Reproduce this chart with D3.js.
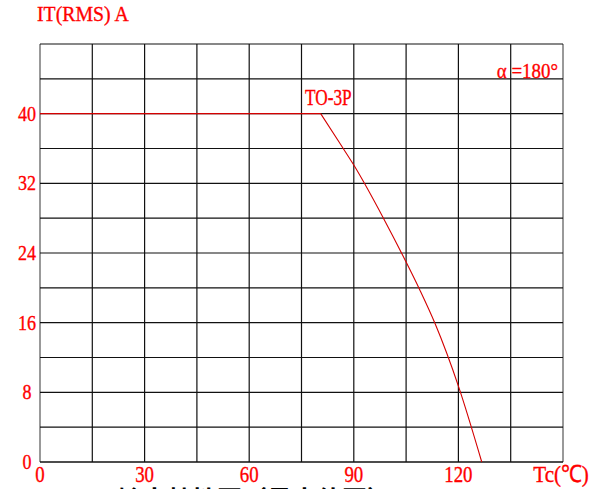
<!DOCTYPE html>
<html>
<head>
<meta charset="utf-8">
<script src="https://cdn.jsdelivr.net/npm/d3@7/dist/d3.min.js"></script>
<style>
  html, body { margin: 0; padding: 0; background: #fff; overflow: hidden; }
  svg { display: block; }
  .lbl { font-family: "Liberation Serif", "Times New Roman", serif; fill: #ff0000; stroke: #ff0000; stroke-width: 0.35; }
</style>
</head>
<body>
<svg id="chart" width="599" height="489"></svg>
<script>
// Case temperature Tc (°C) vs. on-state RMS current IT(RMS) (A), TO-3P, conduction angle 180°
const tcValues = [0, 80.5, 86, 90, 98.5, 104.7, 109, 113.3, 120.1, 126.7];
const itValues = [40, 40, 36.6, 34.1, 28.0, 23.2, 19.7, 15.9, 8.6, 0];

const xGrid = [0, 15, 30, 45, 60, 75, 90, 105, 120, 135, 150];
const yGrid = [0, 4, 8, 12, 16, 20, 24, 28, 32, 36, 40, 44, 48];
const xTickLabels = [0, 30, 60, 90, 120];
const yTickLabels = [0, 8, 16, 24, 32, 40];

const svg = d3.select("#chart");
const x = d3.scaleLinear().domain([0, 150]).range([40, 563]);
const y = d3.scaleLinear().domain([0, 48]).range([462, 44]);

// narrow, tall serif labels: draw at (px, py) and squeeze horizontally
function label(px, py, size, sx, anchor, txt) {
  return svg.append("text")
    .attr("class", "lbl")
    .attr("transform", `translate(${px},${py}) scale(${sx},1)`)
    .attr("text-anchor", anchor)
    .attr("font-size", size)
    .text(txt);
}

// grid
const grid = svg.append("g");
grid.selectAll("line.v").data(xGrid).join("line")
  .attr("x1", d => x(d)).attr("x2", d => x(d))
  .attr("y1", y(48)).attr("y2", y(0))
  .attr("stroke", d => (d === 0 || d === 150) ? "#555" : "#111")
  .attr("stroke-width", 1.2);
grid.selectAll("line.h").data(yGrid).join("line")
  .attr("x1", x(0)).attr("x2", x(150))
  .attr("y1", d => y(d)).attr("y2", d => y(d))
  .attr("stroke", "#111")
  .attr("stroke-width", d => d === 0 ? 1.6 : 1.2);

// derating curve: flat part up to the knee, then a smooth fall-off
const pts = tcValues.map((t, i) => [t, itValues[i]]);
const flat = d3.line().x(d => x(d[0])).y(d => y(d[1]));
const fall = d3.line().x(d => x(d[0])).y(d => y(d[1])).curve(d3.curveMonotoneX);
svg.append("path")
  .datum(pts.slice(0, 2))
  .attr("d", flat)
  .attr("fill", "none")
  .attr("stroke", "#d40000")
  .attr("stroke-width", 1.1);
svg.append("path")
  .datum(pts.slice(1))
  .attr("d", fall)
  .attr("fill", "none")
  .attr("stroke", "#d40000")
  .attr("stroke-width", 1.1);

// y tick labels
yTickLabels.forEach(d => label(27, y(d) + 7, 21, 0.86, "middle", d));

// x tick labels
xTickLabels.forEach(d => label(x(d), 482, 23, 0.82, "middle", d));
label(561, 482, 24, 0.88, "middle", "Tc(℃)");

label(37, 21, 22, 0.9, "start", "IT(RMS) A");
label(305, 105, 23, 0.75, "start", "TO-3P");
label(558, 78, 22, 0.86, "end", "α =180°");

// caption (mostly below the visible area)
svg.append("text")
  .attr("x", 15).attr("y", 503)
  .attr("font-family", "Liberation Serif, serif")
  .attr("font-size", 22)
  .attr("fill", "#999")
  .text("FIG. 1");
svg.append("text")
  .attr("x", 117).attr("y", 509)
  .attr("font-family", "Noto Sans CJK SC, sans-serif")
  .attr("font-size", 25)
  .attr("font-weight", "bold")
  .attr("fill", "#000")
  .text("输出特性图（最大值图）");
</script>
</body>
</html>
